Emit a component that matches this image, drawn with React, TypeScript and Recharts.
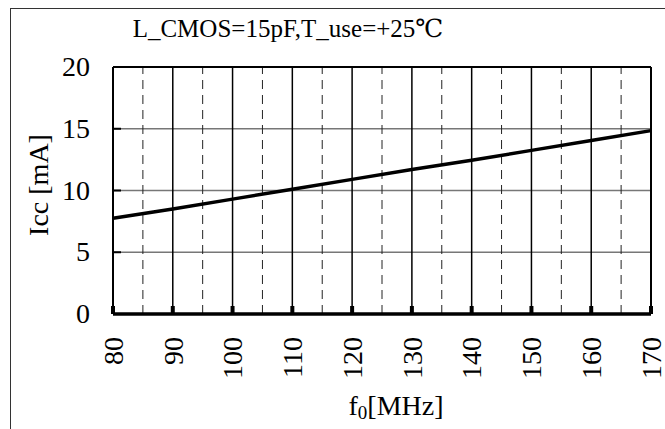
import React from 'react';
import { LineChart, Line, XAxis, YAxis, CartesianGrid, ReferenceLine } from 'recharts';

const freqs = [80, 90, 100, 110, 120, 130, 140, 150, 160, 170];
const icc = [7.75, 8.5, 9.3, 10.1, 10.9, 11.7, 12.45, 13.25, 14.05, 14.85];
const xTicks = [80, 90, 100, 110, 120, 130, 140, 150, 160, 170];
const halfTicks = [85, 95, 105, 115, 125, 135, 145, 155, 165];
const yTicks = [0, 5, 10, 15, 20];

const data = freqs.map((f, i) => ({ f, icc: icc[i] }));

const FONT = 'Liberation Serif, DejaVu Serif, serif';
const txt = { fontFamily: FONT };

const XTick = (props: any) => {
  const { x, y, payload } = props;
  return (
    <g>
      <line x1={x} y1={y} x2={x} y2={y - 8} stroke="#000" strokeWidth={4} />
      <text
        x={x}
        y={y + 23}
        transform={`rotate(-90 ${x} ${y + 23})`}
        textAnchor="end"
        dy="0.35em"
        fontSize={28}
        style={txt}
        fill="#000"
      >
        {payload.value}
      </text>
    </g>
  );
};

const YTick = (props: any) => {
  const { x, y, payload } = props;
  return (
    <g>
      <line x1={x} y1={y} x2={x + 8} y2={y} stroke="#000" strokeWidth={2} />
      <text x={x - 23} y={y} textAnchor="end" dy="0.33em" fontSize={28} style={txt} fill="#000">
        {payload.value}
      </text>
    </g>
  );
};

export default function App() {
  return (
    <div style={{ position: 'absolute', left: 0, top: 0, width: 665, height: 429, background: '#fff', overflow: 'hidden' }}>
      <div
        style={{
          position: 'absolute',
          left: 10,
          top: 8,
          width: 680,
          height: 440,
          border: '1.5px solid #333',
          boxSizing: 'border-box',
        }}
      />
      <div style={{ position: 'absolute', left: 0, top: 0 }}>
        <LineChart width={665} height={429} data={data} margin={{ top: 67, right: 14, left: 0, bottom: 0 }}>
          <CartesianGrid horizontal={true} vertical={false} stroke="#777" strokeWidth={1.5} />
          <CartesianGrid horizontal={false} vertical={true} stroke="#000" strokeWidth={1.5} />
          {halfTicks.map((t) => (
            <ReferenceLine key={t} x={t} stroke="#222" strokeWidth={1} strokeDasharray="9 6" />
          ))}
          <ReferenceLine y={20} stroke="#000" strokeWidth={2} />
          <ReferenceLine x={170} stroke="#000" strokeWidth={2} />
          <XAxis
            dataKey="f"
            type="number"
            domain={[80, 170]}
            ticks={xTicks}
            height={115}
            tickSize={0}
            tickMargin={0}
            tickLine={false}
            axisLine={{ stroke: '#000', strokeWidth: 3.5 }}
            tick={<XTick />}
            interval={0}
          />
          <YAxis
            type="number"
            domain={[0, 20]}
            ticks={yTicks}
            width={113}
            tickSize={0}
            tickMargin={0}
            tickLine={false}
            axisLine={{ stroke: '#000', strokeWidth: 2 }}
            tick={<YTick />}
            interval={0}
          />
          <Line
            type="linear"
            dataKey="icc"
            stroke="#000"
            strokeWidth={3.5}
            dot={false}
            isAnimationActive={false}
          />
        </LineChart>
      </div>
      <svg width={665} height={429} style={{ position: 'absolute', left: 0, top: 0, pointerEvents: 'none' }}>
        <text x={288} y={37} textAnchor="middle" fontSize={25} style={txt} fill="#000">
          L_CMOS=15pF,T_use=+25℃
        </text>
        <text
          x={48}
          y={185}
          transform="rotate(-90 48 185)"
          textAnchor="middle"
          fontSize={28}
          style={txt}
          fill="#000"
        >
          Icc [mA]
        </text>
        <text x={396} y={415} textAnchor="middle" fontSize={28} style={txt} fill="#000">
          f<tspan fontSize={19} dy={4}>0</tspan>
          <tspan dy={-4}>[MHz]</tspan>
        </text>
      </svg>
    </div>
  );
}
